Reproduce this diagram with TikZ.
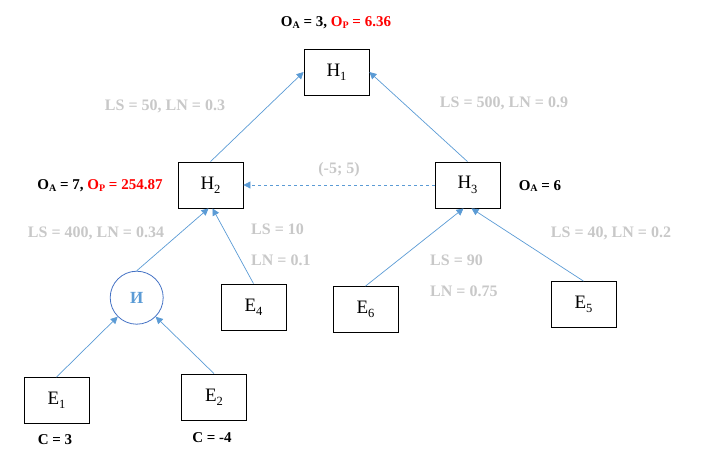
\documentclass[tikz,border=0pt]{standalone}
\usepackage{fontspec}
\setmainfont{Liberation Serif}
\usetikzlibrary{arrows.meta}
\definecolor{lblgray}{RGB}{200,200,200}
\definecolor{arrblue}{RGB}{91,155,213}
\definecolor{circblue}{RGB}{68,114,196}
\definecolor{redtxt}{RGB}{255,0,0}
\newcommand{\sbx}[1]{\raisebox{-0.5ex}{\fontsize{12.5}{12.5}\selectfont #1}}
\newcommand{\sbb}[1]{\raisebox{-0.25ex}{\fontsize{10}{10}\selectfont\bfseries #1}}
\begin{document}
\begin{tikzpicture}[x=1pt,y=-1pt,
  box/.style={draw=black, line width=0.8pt, minimum width=65pt, minimum height=46pt, inner sep=0pt, font=\fontsize{19}{20}\selectfont},
  andnode/.style={circle, draw=circblue, line width=0.8pt, minimum size=53pt, inner sep=0pt, text=arrblue, font=\fontsize{17}{18}\selectfont\bfseries},
  lbl/.style={text=lblgray, font=\fontsize{16}{18}\selectfont\bfseries, inner sep=0pt},
  blk/.style={text=black, font=\fontsize{15}{17}\selectfont\bfseries, inner sep=0pt},
  conn/.style={draw=arrblue, line width=0.7pt, -{Triangle[length=7pt,width=7pt]}},
  dconn/.style={conn, dashed}
]
\useasboundingbox (0,0) rectangle (702,455);
\node[box] (h1) at (336.5,72) {H\sbx{1}};
\node[box] (h2) at (210.5,185) {H\sbx{2}};
\node[box] (h3) at (467.5,185) {H\sbx{3}};
\node[andnode] (and) at (136.7,297.7) {И};
\node[box] (e4) at (253.5,307) {E\sbx{4}};
\node[box] (e1) at (56.5,400.5) {E\sbx{1}};
\node[box] (e2) at (214,397) {E\sbx{2}};
\node[box] (e6) at (365.5,309.5) {E\sbx{6}};
\node[box] (e5) at (583.5,304.5) {E\sbx{5}};

\draw[conn] (h2.north) -- (h1.west);
\draw[conn] (h3.north) -- (h1.east);
\draw[dconn] (h3.west) -- (h2.east);
\draw[conn] (and.north) -- ([xshift=-2pt]h2.south);
\draw[conn] (e4.north) -- ([xshift=2pt]h2.south);
\draw[conn] (e1.north) -- (and.225);
\draw[conn] (e2.north) -- (and.-45);
\draw[conn] (e6.north) -- ([xshift=-4pt]h3.south);
\draw[conn] (e5.north) -- ([xshift=4pt]h3.south);

\node[blk] (t1) at (336,23) {O\sbb{A} = 3, \textcolor{redtxt}{O\sbb{P} = 6.36}};
\node[blk] (t2) at (100,186) {O\sbb{A} = 7, \textcolor{redtxt}{O\sbb{P} = 254.87}};
\node[blk] (t3) at (540,186) {O\sbb{A} = 6};
\node[blk] (c1) at (55,440) {C = 3};
\node[blk] (c2) at (212,438) {C = -4};

\node[lbl] (l1) at (165,106) {LS = 50, LN = 0.3};
\node[lbl] (l2) at (504,103) {LS = 500, LN = 0.9};
\node[lbl] (l3) at (339,170) {(-5; 5)};
\node[lbl] (l4) at (96,233) {LS = 400, LN = 0.34};
\node[lbl, anchor=west] (l5) at (251,229) {LS = 10};
\node[lbl, anchor=west] (l6) at (251,260) {LN = 0.1};
\node[lbl, anchor=west] (l7) at (430,260) {LS = 90};
\node[lbl, anchor=west] (l8) at (430,291) {LN = 0.75};
\node[lbl] (l9) at (611,233) {LS = 40, LN = 0.2};
\end{tikzpicture}
\end{document}
